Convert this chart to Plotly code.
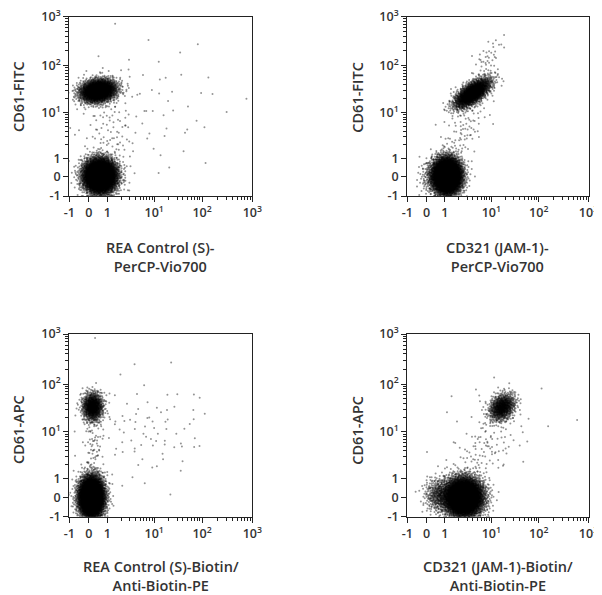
import numpy as np
import plotly.graph_objects as go

# ---- axis ticks (display units of the biexponential scale) ----
tick_pos = [-0.41, 0.0, 0.39, 1.38, 2.39, 3.45]
tick_text = ["-1", "0", "1", "10<sup>1</sup>", "10<sup>2</sup>", "10<sup>3</sup>"]
decade_starts = [0.39, 1.38, 2.39]
decade_widths = [0.99, 1.01, 1.06]

# ---- populations (display units) ----
# each row: centre x, centre y, spread along major axis, spread along minor axis, angle (deg), events
p1_cx = [0.24, 0.20, 0.45, 1.40]
p1_cy = [0.02, 1.85, 0.95, 1.50]
p1_sa = [0.17, 0.19, 0.30, 0.90]
p1_sb = [0.18, 0.12, 0.60, 0.80]
p1_an = [0, 10, 0, 0]
p1_n = [6000, 2600, 110, 60]

p2_cx = [0.44, 0.15, 0.98, 0.80, 1.30]
p2_cy = [0.02, 0.00, 1.80, 1.00, 2.55]
p2_sa = [0.15, 0.15, 0.23, 0.45, 0.25]
p2_sb = [0.19, 0.20, 0.10, 0.18, 0.12]
p2_an = [0, 0, 37, 60, 60]
p2_n = [6000, 200, 2000, 90, 40]

p3_cx = [0.06, 0.085, 0.10, 1.20]
p3_cy = [0.00, 1.91, 1.00, 1.40]
p3_sa = [0.13, 0.11, 0.10, 0.70]
p3_sb = [0.21, 0.15, 0.55, 0.55]
p3_an = [0, 0, 0, 0]
p3_n = [6000, 1000, 90, 90]

p4_cx = [0.79, 0.25, 1.61, 1.20, 1.50]
p4_cy = [0.00, 0.05, 1.90, 1.00, 1.50]
p4_sa = [0.20, 0.15, 0.16, 0.45, 0.55]
p4_sb = [0.20, 0.18, 0.12, 0.25, 0.55]
p4_an = [0, 0, 50, 50, 0]
p4_n = [6500, 400, 900, 90, 40]

x_titles = ["REA Control (S)-<br>PerCP-Vio700", "CD321 (JAM-1)-<br>PerCP-Vio700",
            "REA Control (S)-Biotin/<br>Anti-Biotin-PE", "CD321 (JAM-1)-Biotin/<br>Anti-Biotin-PE"]
y_titles = ["CD61-FITC", "CD61-FITC", "CD61-APC", "CD61-APC"]


def radical_inverse(idx, base):
    r = np.zeros(len(idx))
    f = 1.0 / base
    i = idx.copy()
    while np.any(i > 0):
        r += f * (i % base)
        i //= base
        f /= base
    return r


def population(cx, cy, sa, sb, an, n, start):
    idx = np.arange(start, start + n)
    u1 = radical_inverse(idx, 2)
    u2 = radical_inverse(idx, 3)
    u1 = np.clip(u1, 1e-6, 1)
    r = np.sqrt(-2 * np.log(u1))
    a = r * np.cos(2 * np.pi * u2) * sa
    b = r * np.sin(2 * np.pi * u2) * sb
    t = np.radians(an)
    return cx + a * np.cos(t) - b * np.sin(t), cy + a * np.sin(t) + b * np.cos(t)


panels = [(p1_cx, p1_cy, p1_sa, p1_sb, p1_an, p1_n),
          (p2_cx, p2_cy, p2_sa, p2_sb, p2_an, p2_n),
          (p3_cx, p3_cy, p3_sa, p3_sb, p3_an, p3_n),
          (p4_cx, p4_cy, p4_sa, p4_sb, p4_an, p4_n)]

minor_vals = []
for s, w in zip(decade_starts, decade_widths):
    for m in range(2, 10):
        minor_vals.append(s + np.log10(m) * w)

# page body has an 8px margin: figure occupies window pixels 8..602 x 8..595
OFF = 8
W, H = 594, 587


def px(xw):
    return (xw - OFF) / W


def py(yw):
    return 1 - (yw - OFF) / H


x_dom = [[px(69.3), px(252.3)], [px(407.3), px(588.5)]]
y_dom = [[py(196), py(16.5)], [py(516.7), py(334)]]

TICK_FONT = dict(family="Open Sans", size=12.5, color="#333", weight=600)
TITLE_FONT = dict(family="Open Sans", size=14.5, color="#333", weight=600)

fig = go.Figure()
start = 1
layout_axes = {}
annotations = []
for k, (cx, cy, sa, sb, an, n) in enumerate(panels):
    xs, ys = [], []
    for j in range(len(cx)):
        x, y = population(cx[j], cy[j], sa[j], sb[j], an[j], n[j], start)
        start += n[j] + 37
        xs.append(x)
        ys.append(y)
    xs = np.concatenate(xs)
    ys = np.concatenate(ys)
    xa = "x" if k == 0 else f"x{k+1}"
    ya = "y" if k == 0 else f"y{k+1}"
    fig.add_trace(go.Scatter(x=xs, y=ys, mode="markers", xaxis=xa, yaxis=ya,
                             marker=dict(size=2, color="rgba(0,0,0,0.42)", line=dict(width=0)),
                             hoverinfo="skip", showlegend=False))
    col, row = k % 2, k // 2
    ax_common = dict(range=[tick_pos[0], tick_pos[-1]], tickvals=tick_pos, ticktext=tick_text,
                     ticks="outside", ticklen=5, tickwidth=1, tickcolor="#222",
                     showline=True, linecolor="#222", linewidth=1.3, mirror=True,
                     showgrid=False, zeroline=False, automargin=False,
                     ticklabeloverflow="allow",
                     tickfont=TICK_FONT,
                     minor=dict(tickvals=minor_vals, ticks="outside", ticklen=3,
                                tickwidth=1, tickcolor="#222", showgrid=False))
    key_x = "xaxis" if k == 0 else f"xaxis{k+1}"
    key_y = "yaxis" if k == 0 else f"yaxis{k+1}"
    layout_axes[key_x] = dict(ax_common, domain=x_dom[col], anchor=ya)
    layout_axes[key_y] = dict(ax_common, domain=y_dom[row], anchor=xa)

    xc = (x_dom[col][0] + x_dom[col][1]) / 2
    xt_y = [py(256.5), py(576)][row]
    yt_y = [py(97), py(430)][row]
    yt_x = [px(18), px(356.7)][col]
    annotations.append(dict(text=x_titles[k], x=xc, y=xt_y, xref="paper", yref="paper",
                            showarrow=False, xanchor="center", yanchor="middle", font=TITLE_FONT))
    annotations.append(dict(text=y_titles[k], x=yt_x, y=yt_y, xref="paper", yref="paper",
                            showarrow=False, xanchor="center", yanchor="middle", textangle=-90,
                            font=TITLE_FONT))

fig.update_layout(width=W, height=H, margin=dict(l=0, r=0, t=0, b=0, autoexpand=False),
                  paper_bgcolor="white", plot_bgcolor="white",
                  annotations=annotations, **layout_axes)
fig.write_html("out.html")
